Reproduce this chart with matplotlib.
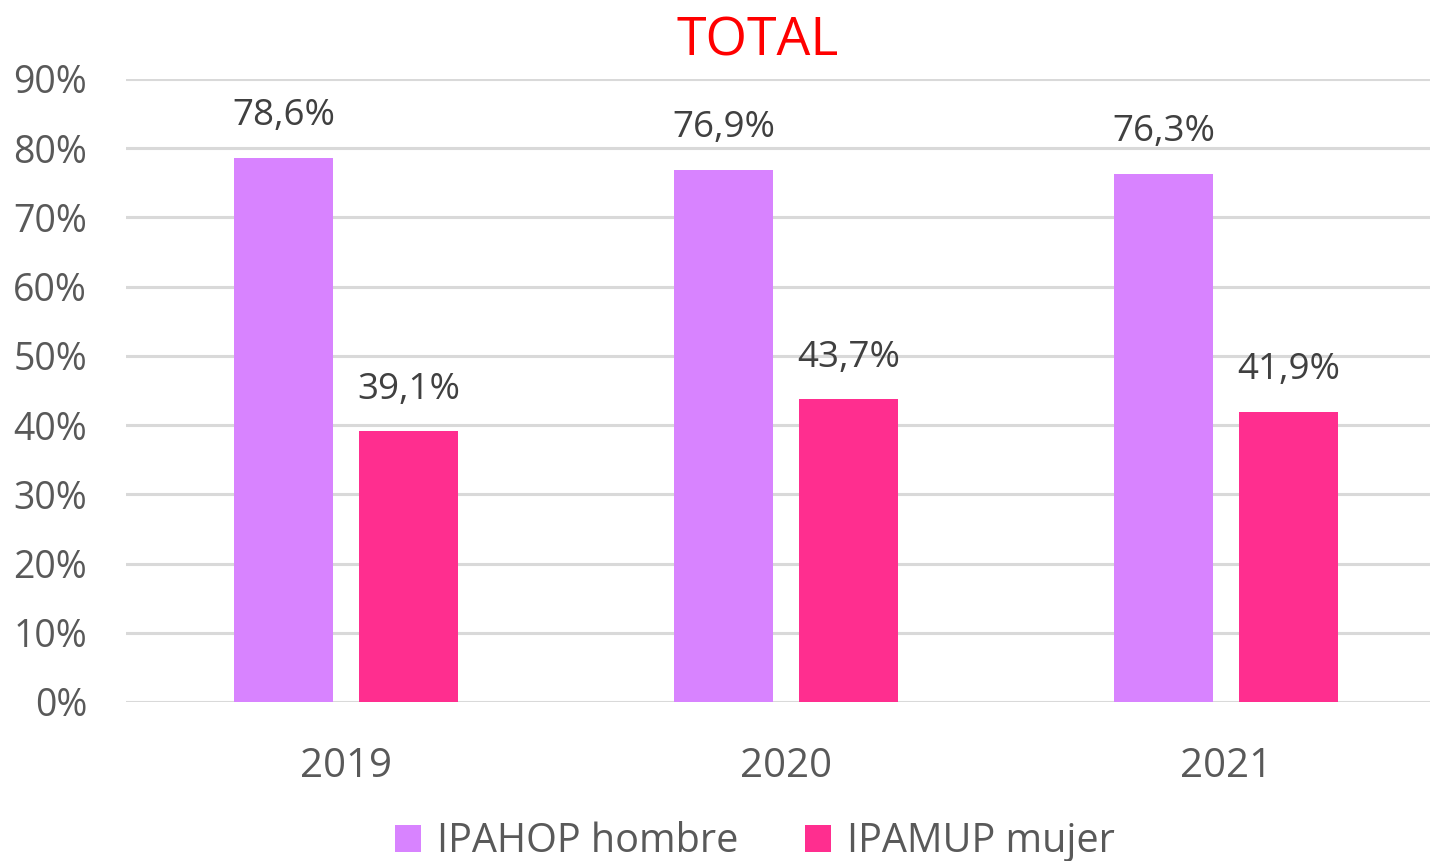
import matplotlib.pyplot as plt
import numpy as np

years = ["2019", "2020", "2021"]
hombre = [78.6, 76.9, 76.3]
mujer = [39.1, 43.7, 41.9]
series_names = ["IPAHOP hombre", "IPAMUP mujer"]
yticks = [0, 10, 20, 30, 40, 50, 60, 70, 80, 90]

plt.rcParams['font.family'] = ['Open Sans', 'DejaVu Sans']

fig = plt.figure(figsize=(14.3, 8.61), dpi=100)
ax = fig.add_axes([126 / 1430, 1 - 702 / 861, 1 - 126 / 1430, (702 - 79) / 861])

x = np.arange(len(years))
w = 0.225
off = 0.142
b1 = ax.bar(x - off, hombre, w, color="#D883FF", label=series_names[0], zorder=3)
b2 = ax.bar(x + off, mujer, w, color="#FF2E8F", label=series_names[1], zorder=3)

# etiquetas de datos con coma decimal
for bars, vals in [(b1, hombre), (b2, mujer)]:
    for rect, v in zip(bars, vals):
        ax.annotate(f"{v:.1f}%".replace(".", ","),
                    (rect.get_x() + rect.get_width() / 2, v),
                    xytext=(0, 17), textcoords="offset points",
                    ha="center", va="bottom", fontsize=26.5, color="#404040")

ax.set_ylim(0, 90)
ax.set_xlim(-0.5, 2.5 - 16 / 440)
ax.set_yticks(yticks)
ax.set_yticklabels([f"{t}%" for t in yticks])
ax.set_xticks(x)
ax.set_xticklabels(years)
ax.tick_params(axis="y", length=0, pad=28, labelsize=27, labelcolor="#595959")
ax.tick_params(axis="x", length=0, pad=32, labelsize=29, labelcolor="#595959")
ax.grid(axis="y", color="#D9D9D9", linewidth=2.2, zorder=0)
for s in ax.spines.values():
    s.set_visible(False)

fig.text(0.53, 0.951, "TOTAL", color="#FF0000", fontsize=38.5, ha="center", va="center")

fig.legend(handles=[b1, b2], loc="center", bbox_to_anchor=(0.528, 0.022), ncol=2,
           frameon=False, fontsize=28.5, labelcolor="#595959",
           handlelength=0.65, handleheight=0.65, handletextpad=0.4, columnspacing=1.7)

fig.savefig("out.png", dpi=100)
